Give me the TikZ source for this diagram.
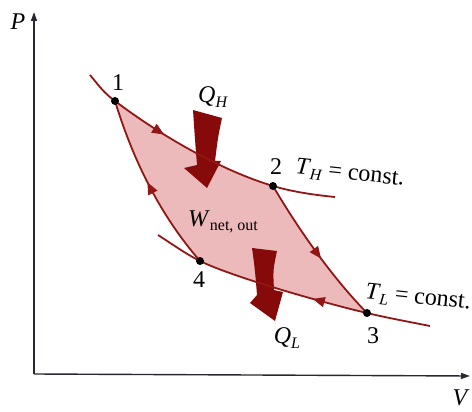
\documentclass[tikz,border=0pt]{standalone}
\usepackage{fontspec}
\setmainfont{Liberation Serif}
\usetikzlibrary{arrows.meta,decorations.markings}
\definecolor{curvecol}{RGB}{145,22,22}
\definecolor{regioncol}{RGB}{237,186,188}
\definecolor{qarrowcol}{RGB}{135,10,10}
\definecolor{axiscol}{RGB}{40,40,50}
\newcommand\sbs[1]{\raisebox{-0.4ex}{\fontsize{16}{16}\selectfont #1}}
\begin{document}
\begin{tikzpicture}[x=1pt,y=-1pt,
  curveline/.style={color=curvecol, line width=1.8pt},
  flowmark/.style={postaction={decorate},decoration={markings, mark=at position #1 with {\arrow{Triangle[length=12pt,width=10pt]}}}},
  dot/.style={circle, fill=black, inner sep=0pt, minimum size=8pt},
  lbl/.style={font=\fontsize{24}{26}\selectfont, inner sep=0pt},
  axisline/.style={draw=axiscol, line width=1.4pt, -{Triangle[length=9pt,width=6pt]}},
  heat/.style={fill=qarrowcol}]
\useasboundingbox (0,0) rectangle (472,412);
\coordinate (p1) at (115,101);
\coordinate (p2) at (273,186);
\coordinate (p3) at (367,313);
\coordinate (p4) at (200,261);
\coordinate (h0) at (90,75);
\coordinate (h1) at (335,197);
\coordinate (l0) at (158,235);
\coordinate (l1) at (430,326);
\coordinate (o) at (34,374);
\coordinate (ptop) at (34,12);
\coordinate (vend) at (470,376);
% axes
\draw[axisline] (o) -- (ptop);
\draw[axisline] (o) -- (vend);
% cycle region
\fill[regioncol] (p1) .. controls (160,135) and (220,170) .. (p2)
  .. controls (290,215) and (325,270) .. (p3)
  .. controls (320,302) and (230,276) .. (p4)
  .. controls (160,215) and (133,160) .. (p1) -- cycle;
% heat arrows
\fill[heat] (193,110) -- (222,118) .. controls (218,137) .. (215,161) -- (221,161) -- (207,188) -- (184,168) -- (197,165) .. controls (195,140) .. (193,110) -- cycle;
\fill[heat] (252,248) -- (277,251) .. controls (273,270) .. (274,290) -- (283,292) -- (275,321) -- (250,303) -- (257,295) .. controls (255,270) .. (252,248) -- cycle;
% isotherms and adiabats
\draw[curveline] (h0) .. controls (100,87) and (104,93) .. (p1);
\draw[curveline, flowmark=0.33] (p1) .. controls (160,135) and (220,170) .. (p2);
\draw[curveline] (p2) .. controls (293,192) and (315,195) .. (h1);
\draw[curveline, flowmark=0.55] (p2) .. controls (290,215) and (325,270) .. (p3);
\draw[curveline, flowmark=0.32] (p3) .. controls (320,302) and (230,276) .. (p4);
\draw[curveline] (l0) .. controls (172,244) and (186,254) .. (p4);
\draw[curveline] (p3) .. controls (388,318) and (410,322) .. (l1);
\draw[curveline, flowmark=0.52] (p4) .. controls (160,215) and (133,160) .. (p1);
% state points
\node[dot] (n1) at (p1) {};
\node[dot] (n2) at (p2) {};
\node[dot] (n3) at (p3) {};
\node[dot] (n4) at (p4) {};
% labels
\node[lbl] (t1) at (118,83) {1};
\node[lbl] (t2) at (276,167) {2};
\node[lbl] (t3) at (373,336) {3};
\node[lbl] (t4) at (199,280) {4};
\node[lbl, rotate=-6] (th) at (350,174) {\textit{T}\sbs{\textit{H}} = const.};
\node[lbl, rotate=-6] (tl) at (418,298) {\textit{T}\sbs{\textit{L}} = const.};
\node[lbl] (qh) at (213,97) {\textit{Q}\sbs{\textit{H}}};
\node[lbl] (ql) at (287,338) {\textit{Q}\sbs{\textit{L}}};
\node[lbl] (w) at (223,222) {\textit{W}\sbs{net, out}};
\node[lbl] (pl) at (18,22) {\textit{P}};
\node[lbl] (vl) at (461,398) {\textit{V}};
\end{tikzpicture}
\end{document}
